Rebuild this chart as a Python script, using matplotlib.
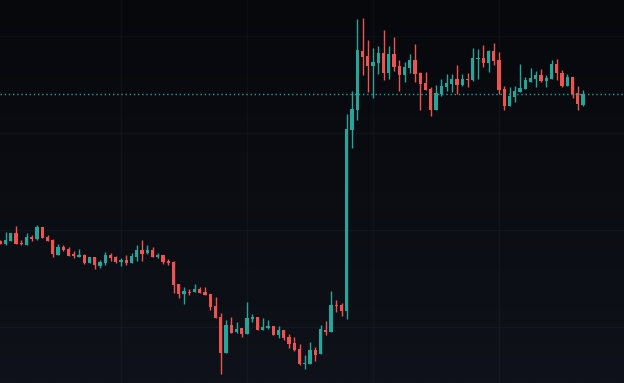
import numpy as np
import matplotlib
matplotlib.use("Agg")
import matplotlib.pyplot as plt
from matplotlib.colors import LinearSegmentedColormap

# OHLC (arbitrary price units)
opens = [159, 156, 159, 167, 157, 155, 163, 161, 173, 163,
         160, 145, 153, 151, 146, 143, 145, 137, 143, 134,
         137, 145, 143, 138, 140, 137, 143, 150, 147, 150,
         143, 145, 139, 138, 116, 106, 108, 108, 111, 108,
         106, 94, 83, 47, 75, 68, 72, 66, 81, 83,
         70, 72, 74, 65, 70, 63, 57, 51, 36, 36,
         50, 46, 70, 68, 95, 95, 89, 270, 290, 349,
         344, 334, 337, 347, 327, 346, 334, 325, 332, 340,
         327, 317, 311, 290, 306, 313, 316, 321, 315, 321,
         320, 341, 342, 337, 349, 340, 311, 294, 303, 308,
         311, 318, 321, 325, 319, 321, 336, 327, 314, 323,
         307, 295]
highs = [160, 168, 167, 174, 160, 167, 165, 175, 173, 165,
         161, 156, 155, 153, 149, 151, 146, 143, 143, 140,
         148, 147, 144, 142, 145, 147, 155, 160, 155, 153,
         147, 145, 141, 139, 116, 113, 111, 116, 113, 113,
         106, 103, 87, 80, 83, 78, 72, 98, 86, 83,
         82, 80, 74, 74, 70, 66, 63, 56, 45, 58,
         53, 75, 79, 109, 100, 97, 286, 309, 381, 382,
         360, 352, 354, 370, 354, 363, 340, 338, 346, 356,
         328, 328, 313, 315, 321, 326, 326, 335, 326, 327,
         352, 351, 355, 350, 357, 348, 314, 313, 314, 336,
         323, 332, 329, 331, 325, 340, 341, 330, 326, 323,
         314, 310]
lows = [156, 155, 159, 156, 155, 155, 159, 160, 162, 159,
        143, 145, 149, 144, 142, 143, 136, 137, 131, 132,
        135, 139, 137, 134, 135, 137, 139, 139, 146, 143,
        142, 136, 135, 107, 102, 96, 105, 108, 107, 105,
        90, 82, 26, 47, 67, 67, 63, 66, 78, 70,
        70, 71, 65, 62, 60, 52, 49, 35, 31, 36,
        39, 46, 65, 68, 88, 84, 81, 252, 280, 325,
        308, 302, 326, 320, 321, 329, 309, 318, 327, 318,
        290, 310, 284, 290, 304, 309, 308, 306, 314, 313,
        319, 321, 333, 328, 335, 306, 290, 294, 298, 308,
        311, 318, 313, 318, 313, 321, 320, 313, 314, 302,
        290, 294]
closes = [156, 160, 167, 156, 156, 163, 161, 173, 162, 159,
          146, 153, 150, 144, 144, 145, 137, 143, 135, 138,
          145, 142, 138, 140, 137, 144, 150, 146, 150, 143,
          145, 138, 137, 115, 106, 109, 107, 111, 107, 105,
          93, 82, 47, 75, 67, 71, 66, 82, 83, 70,
          73, 74, 65, 70, 62, 56, 50, 36, 37, 50,
          45, 71, 68, 95, 94, 89, 271, 291, 350, 343,
          334, 338, 347, 327, 346, 333, 325, 333, 340, 326,
          316, 310, 290, 307, 314, 317, 321, 315, 321, 320,
          342, 342, 337, 349, 339, 310, 294, 304, 309, 312,
          320, 322, 325, 319, 322, 336, 327, 314, 323, 306,
          296, 306]

up_col = "#26a69a"
down_col = "#ef5350"

o = np.array(opens)
h = np.array(highs)
l = np.array(lows)
c = np.array(closes)
x = np.arange(len(o))
cols = np.where(c >= o, up_col, down_col)

fig = plt.figure(figsize=(6.24, 3.83), dpi=100)
ax = fig.add_axes([0, 0, 1, 1])

# background: faint vertical gradient, darker at the top
grad = LinearSegmentedColormap.from_list("bg", ["#07080c", "#0f121a"])
ax.imshow(np.linspace(0, 1, 256).reshape(-1, 1), cmap=grad, aspect="auto",
          extent=[0, 1, 0, 1], transform=ax.transAxes, zorder=0)

# grid (very faint)
for gx in [23, 47, 71, 95]:
    ax.axvline(gx, color="white", alpha=0.03, lw=1, zorder=1)
for gy in [364, 267, 170, 73]:
    ax.axhline(gy, color="white", alpha=0.03, lw=1, zorder=1)

# candles
ax.vlines(x, l, h, colors=cols, lw=1.0, zorder=2)
body = np.maximum(np.abs(c - o), 0.8)
ax.bar(x, body, bottom=np.minimum(o, c), width=0.6, color=cols,
       linewidth=0, zorder=3)

# last price line
ax.axhline(c[-1], color=up_col, lw=1, ls=(0, (1, 2)), zorder=4)

ax.set_xlim(-0.06, 118.8)
ax.set_ylim(17, 400)
ax.axis("off")

fig.savefig("out.png", dpi=100)
